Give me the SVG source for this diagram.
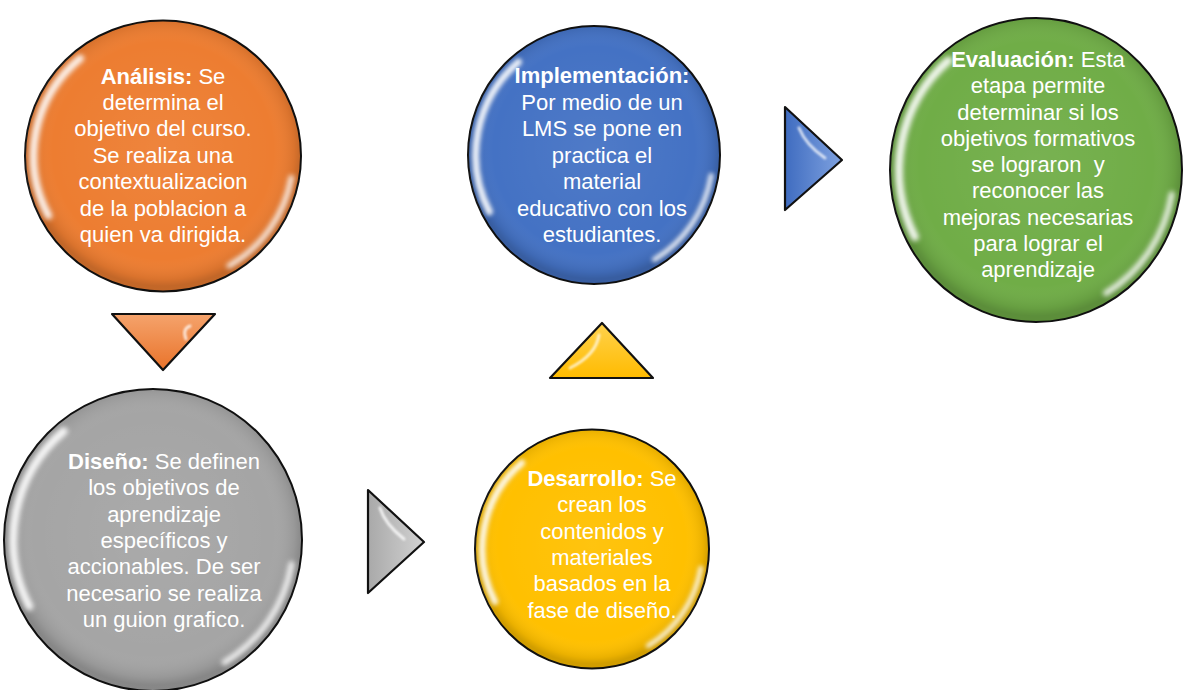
<svg xmlns="http://www.w3.org/2000/svg" width="1183" height="690" viewBox="0 0 1183 690">
  <style>
    .lbl { font-family: "Liberation Sans", Arial, sans-serif; font-size: 22px; fill: #ffffff; text-anchor: middle; }
    .lbl .b { font-weight: bold; }
    .ring { stroke: #111; stroke-width: 2; }
    .tri { stroke: #111; stroke-width: 2.2; stroke-linejoin: round; }
  </style>
  <defs>
    <filter id="soft" x="-20%" y="-20%" width="140%" height="140%">
      <feGaussianBlur stdDeviation="1.8"/>
    </filter>
    <filter id="soft2" x="-50%" y="-50%" width="200%" height="200%">
      <feGaussianBlur stdDeviation="1.2"/>
    </filter>
    <radialGradient id="shade" cx="50%" cy="48%" r="50%">
      <stop offset="0" stop-color="#fff" stop-opacity="0.06"/>
      <stop offset="0.8" stop-color="#fff" stop-opacity="0"/>
      <stop offset="0.95" stop-color="#000" stop-opacity="0.08"/>
      <stop offset="1" stop-color="#000" stop-opacity="0.18"/>
    </radialGradient>
    <!-- glossy overlay for a unit circle of radius 100 -->
    <g id="gloss">
      <circle r="100" fill="url(#shade)"/>
      <path d="M -83 44 A 94 94 0 0 1 -60 -72" fill="none" stroke="#fff" stroke-width="5.5" stroke-linecap="round" opacity="0.9" filter="url(#soft)"/>
      <path d="M 93 16 A 94 94 0 0 1 48 81" fill="none" stroke="#fff" stroke-width="4" stroke-linecap="round" opacity="0.85" filter="url(#soft)"/>
    </g>
    <linearGradient id="gOrange" x1="0" y1="0" x2="0" y2="1">
      <stop offset="0" stop-color="#f5a36c"/><stop offset="1" stop-color="#e9732a"/>
    </linearGradient>
    <linearGradient id="gGray" x1="0" y1="0" x2="1" y2="0">
      <stop offset="0" stop-color="#a9a9a9"/><stop offset="1" stop-color="#d2d2d2"/>
    </linearGradient>
    <linearGradient id="gYellow" x1="0" y1="0" x2="0" y2="1">
      <stop offset="0" stop-color="#ffd24d"/><stop offset="1" stop-color="#ffbb00"/>
    </linearGradient>
    <linearGradient id="gBlue" x1="0" y1="0" x2="1" y2="0">
      <stop offset="0" stop-color="#3f6cc0"/><stop offset="1" stop-color="#7fa2e0"/>
    </linearGradient>
  </defs>

  <rect width="1183" height="690" fill="#ffffff"/>

  <!-- stage nodes -->
  <g id="analisis">
    <ellipse cx="163" cy="156" rx="138" ry="135.5" fill="#ed7d31" class="ring"/>
    <use href="#gloss" transform="translate(163 156) scale(1.38 1.355)"/>
    <text class="lbl" x="163" y="83.5"><tspan class="b">Análisis:</tspan> Se<tspan x="163" dy="26.4">determina el</tspan><tspan x="163" dy="26.4">objetivo del curso.</tspan><tspan x="163" dy="26.4">Se realiza una</tspan><tspan x="163" dy="26.4">contextualizacion</tspan><tspan x="163" dy="26.4">de la poblacion a</tspan><tspan x="163" dy="26.4">quien va dirigida.</tspan></text>
  </g>

  <g id="diseno">
    <ellipse cx="153" cy="540" rx="149" ry="151" fill="#a5a5a5" class="ring"/>
    <use href="#gloss" transform="translate(153 540) scale(1.49 1.51)"/>
    <text class="lbl" x="164" y="469"><tspan class="b">Diseño:</tspan> Se definen<tspan x="164" dy="26.3">los objetivos de</tspan><tspan x="164" dy="26.3">aprendizaje</tspan><tspan x="164" dy="26.3">específicos y</tspan><tspan x="164" dy="26.3">accionables. De ser</tspan><tspan x="164" dy="26.3">necesario se realiza</tspan><tspan x="164" dy="26.3">un guion grafico.</tspan></text>
  </g>

  <g id="desarrollo">
    <ellipse cx="592" cy="549" rx="117" ry="119.5" fill="#ffc000" class="ring"/>
    <use href="#gloss" transform="translate(592 549) scale(1.17 1.195)"/>
    <text class="lbl" x="602" y="486"><tspan class="b">Desarrollo:</tspan> Se<tspan x="602" dy="26.3">crean los</tspan><tspan x="602" dy="26.3">contenidos y</tspan><tspan x="602" dy="26.3">materiales</tspan><tspan x="602" dy="26.3">basados en la</tspan><tspan x="602" dy="26.3">fase de diseño.</tspan></text>
  </g>

  <g id="implementacion">
    <ellipse cx="594" cy="155" rx="126" ry="129" fill="#4472c4" class="ring"/>
    <use href="#gloss" transform="translate(594 155) scale(1.26 1.29)"/>
    <text class="lbl" x="602" y="83"><tspan class="b">Implementación:</tspan><tspan x="602" dy="26.5">Por medio de un</tspan><tspan x="602" dy="26.5">LMS se pone en</tspan><tspan x="602" dy="26.5">practica el</tspan><tspan x="602" dy="26.5">material</tspan><tspan x="602" dy="26.5">educativo con los</tspan><tspan x="602" dy="26.5">estudiantes.</tspan></text>
  </g>

  <g id="evaluacion">
    <ellipse cx="1036" cy="170" rx="146" ry="152" fill="#70ad47" class="ring"/>
    <use href="#gloss" transform="translate(1036 170) scale(1.46 1.52)"/>
    <text class="lbl" x="1038" y="67"><tspan class="b">Evaluación:</tspan> Esta<tspan x="1038" dy="26.25">etapa permite</tspan><tspan x="1038" dy="26.25">determinar si los</tspan><tspan x="1038" dy="26.25">objetivos formativos</tspan><tspan x="1038" dy="26.25">se lograron&#160; y</tspan><tspan x="1038" dy="26.25">reconocer las</tspan><tspan x="1038" dy="26.25">mejoras necesarias</tspan><tspan x="1038" dy="26.25">para lograr el</tspan><tspan x="1038" dy="26.25">aprendizaje</tspan></text>
  </g>

  <!-- connectors: glossy triangular arrows -->
  <g id="connectors">
    <g id="arrow-down">
      <polygon class="tri" points="112,314 215,314 163,370" fill="url(#gOrange)"/>
      <path d="M 186 339 Q 182 329 190 326" fill="none" stroke="#fff" stroke-width="3" stroke-linecap="round" opacity="0.75" filter="url(#soft2)"/>
    </g>
    <g id="arrow-right-gray">
      <polygon class="tri" points="368,490 424,542 368,593" fill="url(#gGray)"/>
      <path d="M 380 508 Q 385 524 404 539" fill="none" stroke="#fff" stroke-width="3" stroke-linecap="round" opacity="0.8" filter="url(#soft2)"/>
    </g>
    <g id="arrow-up">
      <polygon class="tri" points="602,323 653,378 550,378" fill="url(#gYellow)"/>
      <path d="M 599 335 Q 596 355 570 368" fill="none" stroke="#fff" stroke-width="3" stroke-linecap="round" opacity="0.7" filter="url(#soft2)"/>
    </g>
    <g id="arrow-right-blue">
      <polygon class="tri" points="785,107 842,160 785,210" fill="url(#gBlue)"/>
      <path d="M 799 128 Q 806 145 825 158" fill="none" stroke="#fff" stroke-width="3" stroke-linecap="round" opacity="0.75" filter="url(#soft2)"/>
    </g>
  </g>
</svg>
